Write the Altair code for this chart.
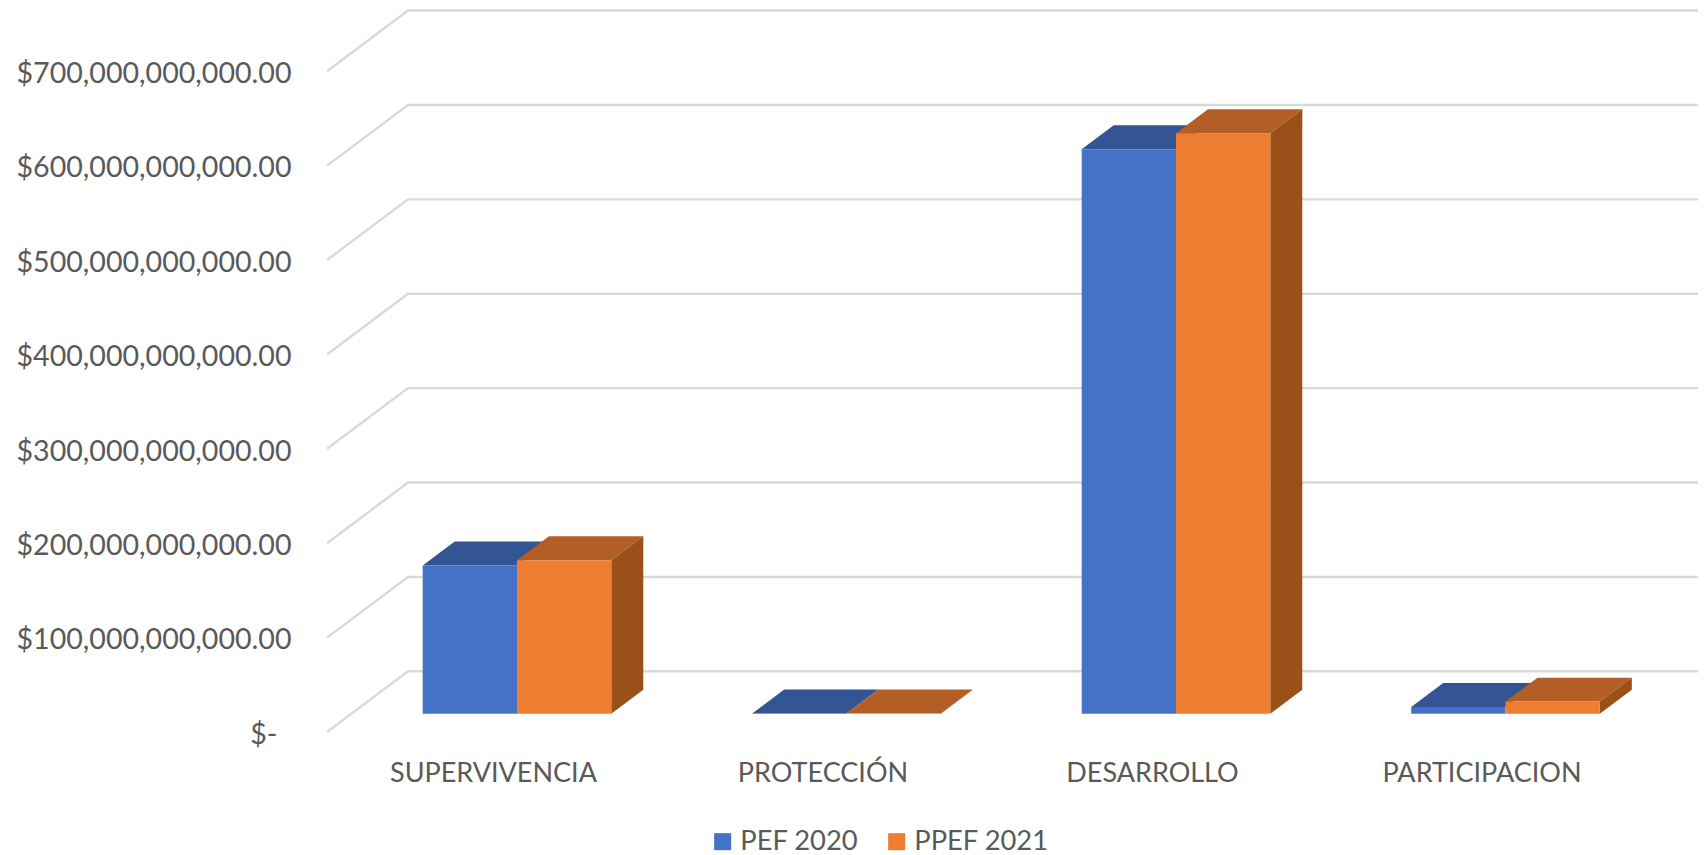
import altair as alt
import pandas as pd

categories = ["SUPERVIVENCIA", "PROTECCIÓN", "DESARROLLO", "PARTICIPACION"]
pef_2020 = [157e9, 0.2e9, 598e9, 7e9]
ppef_2021 = [162.5e9, 0.2e9, 615e9, 12.8e9]
series_names = ["PEF 2020", "PPEF 2021"]
tick_values = [0, 100e9, 200e9, 300e9, 400e9, 500e9, 600e9, 700e9]

FONT = "Lato"
TEXT = "#595959"
BLUE, ORANGE = "#4472C4", "#ED7D31"
BLUE_TOP, ORANGE_TOP, ORANGE_SIDE = "#335593", "#B35E25", "#995019"
GRID = "#D9D9D9"

# projection of the pseudo-3D box, in data units (category steps, dollars)
BAR_W = 0.2862
BAR_DX, BAR_DY = 0.0971, 25.4e9
WALL_DX = 0.2458
WALL_BACK_DY, WALL_FRONT_DY = 44.9e9, -19.4e9
X_DOMAIN = [-0.5766, 3.5842]
Y_DOMAIN = [-22.56e9, 747.6e9]

x_scale = alt.Scale(domain=X_DOMAIN, nice=False, zero=False)
y_scale = alt.Scale(domain=Y_DOMAIN, nice=False, zero=False)

label_expr = "[" + ",".join(f"'{c}'" for c in categories) + "][datum.value]"
x_axis = alt.Axis(
    values=[0, 1, 2, 3], labelExpr=label_expr, domain=False, ticks=False, grid=False,
    labelOffset=-24, labelPadding=25, labelFontSize=27, labelFont=FONT, labelColor=TEXT,
    labelOverlap=False, labelFlush=False, labelBound=False, labelLimit=600, title=None,
)
y_axis = alt.Axis(
    values=tick_values,
    labelExpr="datum.value === 0 ? '$-' : format(datum.value, '$,.2f')",
    domain=False, ticks=False, grid=False,
    labelOffset=20.5, labelFontSize=28.6, labelFont=FONT, labelColor=TEXT,
    labelPadding={"condition": {"test": "datum.value === 0", "value": 50}, "value": 36},
    labelOverlap=False, labelBound=False, labelFlush=False, labelLimit=600, title=None,
)

grid_rows = []
for t in tick_values:
    grid_rows += [
        {"tick": t, "x": X_DOMAIN[0], "y": t + WALL_FRONT_DY, "o": 0},
        {"tick": t, "x": X_DOMAIN[0] + WALL_DX, "y": t + WALL_BACK_DY, "o": 1},
        {"tick": t, "x": X_DOMAIN[1], "y": t + WALL_BACK_DY, "o": 2},
    ]
grid = alt.Chart(pd.DataFrame(grid_rows)).mark_line(color=GRID, strokeWidth=2.4).encode(
    x=alt.X("x:Q", scale=x_scale, axis=x_axis),
    y=alt.Y("y:Q", scale=y_scale, axis=y_axis),
    detail="tick:Q",
    order="o:Q",
)

bars, tops, sides = [], [], []
for i, c in enumerate(categories):
    for s, (name, vals) in enumerate(zip(series_names, [pef_2020, ppef_2021])):
        left = i - BAR_W + s * BAR_W
        right = left + BAR_W
        v = vals[i]
        bars.append({"cat": c, "series": name, "x0": left, "x1": right, "v": v, "zero": 0})
        tops += [
            {"id": c, "series": name, "y": v, "xa": left, "xb": right},
            {"id": c, "series": name, "y": v + BAR_DY, "xa": left + BAR_DX, "xb": right + BAR_DX},
        ]
        sides += [
            {"id": c, "series": name, "x": right, "ya": v, "yb": 0},
            {"id": c, "series": name, "x": right + BAR_DX, "ya": v + BAR_DY, "yb": BAR_DY},
        ]
bars_df, tops_df, sides_df = pd.DataFrame(bars), pd.DataFrame(tops), pd.DataFrame(sides)


def top_layer(name, colour):
    return alt.Chart(tops_df[tops_df.series == name]).mark_area(orient="horizontal", color=colour).encode(
        y=alt.Y("y:Q", scale=y_scale, axis=y_axis),
        x=alt.X("xa:Q", scale=x_scale, axis=x_axis),
        x2="xb:Q",
        detail="id:N",
    )


side_layer = alt.Chart(sides_df[sides_df.series == series_names[1]]).mark_area(color=ORANGE_SIDE).encode(
    x=alt.X("x:Q", scale=x_scale, axis=x_axis),
    y=alt.Y("ya:Q", scale=y_scale, axis=y_axis),
    y2="yb:Q",
    detail="id:N",
)

front = alt.Chart(bars_df).mark_bar().encode(
    x=alt.X("x0:Q", scale=x_scale, axis=x_axis),
    x2="x1:Q",
    y=alt.Y("v:Q", scale=y_scale, axis=y_axis),
    y2="zero:Q",
    color=alt.Color(
        "series:N",
        scale=alt.Scale(domain=series_names, range=[BLUE, ORANGE]),
        legend=alt.Legend(
            title=None, orient="none", legendX=382, legendY=820, direction="horizontal",
            symbolType="square", symbolSize=289, symbolStrokeWidth=0, labelFont=FONT, labelFontSize=27.3,
            labelColor=TEXT, columnPadding=24, labelOffset=4,
        ),
    ),
)

chart = alt.layer(
    grid, top_layer(series_names[0], BLUE_TOP), top_layer(series_names[1], ORANGE_TOP), side_layer, front
).properties(
    width=1371, height=727,
    padding={"left": 319, "top": 0, "right": 0, "bottom": 120},
    autosize=alt.AutoSizeParams(type="none"),
    background="white",
).configure_view(stroke=None)

chart.save("out.html", embed_options={"renderer": "svg", "actions": False})
